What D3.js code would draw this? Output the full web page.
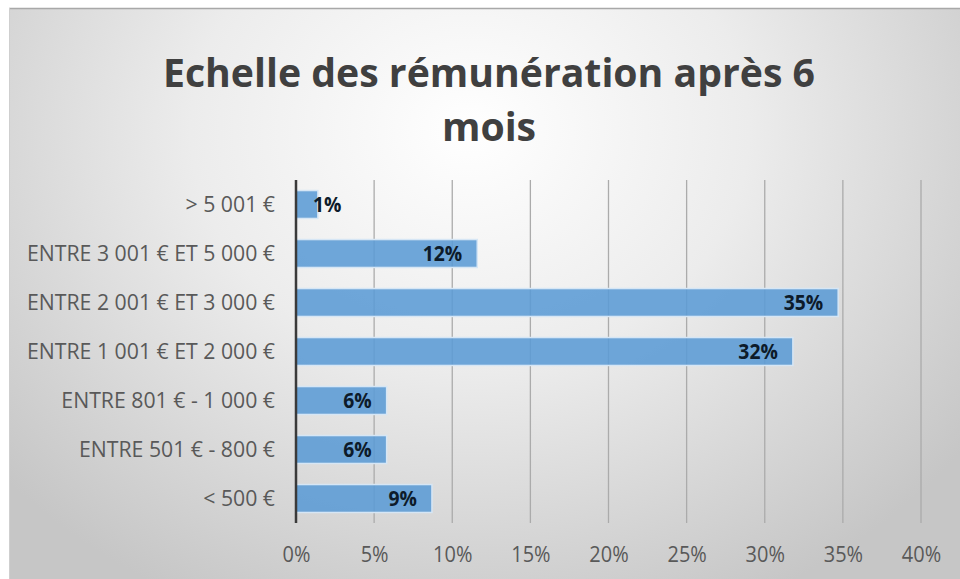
<!DOCTYPE html>
<html>
<head>
<meta charset="utf-8">
<script src="https://cdn.jsdelivr.net/npm/d3@7"></script>
<style>
  body { margin: 0; background: #fff; }
  svg { display: block; }
</style>
</head>
<body>
<div id="chart"></div>
<script>
const categories = [
  '> 5 001 €',
  'ENTRE 3 001 € ET 5 000 €',
  'ENTRE 2 001 € ET 3 000 €',
  'ENTRE 1 001 € ET 2 000 €',
  'ENTRE 801 € - 1 000 €',
  'ENTRE 501 € - 800 €',
  '< 500 €'
];
const shares = [0.014, 0.116, 0.347, 0.318, 0.058, 0.058, 0.087];
const xTicks = [0, 0.05, 0.10, 0.15, 0.20, 0.25, 0.30, 0.35, 0.40];
const titleLines = ['Echelle des rémunération après 6', 'mois'];

const W = 960, H = 579;
const FONT = "'Open Sans', 'Noto Sans', sans-serif";
const plot = { left: 296, right: 921, top: 180, bottom: 523 };

const svg = d3.select('#chart').append('svg').attr('width', W).attr('height', H);

// panel background (radial grey gradient like the Office style)
const grad = svg.append('defs').append('radialGradient').attr('id', 'bg')
  .attr('gradientUnits', 'userSpaceOnUse')
  .attr('cx', 470).attr('cy', 130).attr('r', 620)
  .attr('gradientTransform', 'translate(470,130) scale(1,0.85) translate(-470,-130)');
grad.append('stop').attr('offset', '0%').attr('stop-color', '#ffffff');
grad.append('stop').attr('offset', '45%').attr('stop-color', '#ececec');
grad.append('stop').attr('offset', '100%').attr('stop-color', '#c6c6c6');

svg.append('rect').attr('x', 9).attr('y', 8).attr('width', W - 9).attr('height', H - 8)
  .attr('fill', 'url(#bg)');
svg.append('line').attr('x1', 9).attr('x2', W).attr('y1', 8.5).attr('y2', 8.5)
  .attr('stroke', '#a8a8a8').attr('stroke-width', 1.5);
svg.append('line').attr('x1', 9.5).attr('x2', 9.5).attr('y1', 8).attr('y2', H)
  .attr('stroke', '#cfcfcf').attr('stroke-width', 1);

const x = d3.scaleLinear().domain([0, 0.40]).range([plot.left, plot.right]);
const y = d3.scaleBand().domain(categories).range([plot.top, plot.bottom]).paddingInner(0.43).paddingOuter(0.215);

// squeeze a text to a given width (the original uses a narrower font)
function fitWidth(sel, k) {
  sel.each(function () {
    const w = this.getComputedTextLength();
    d3.select(this).attr('textLength', w * k).attr('lengthAdjust', 'spacingAndGlyphs');
  });
}

// title
const title = svg.append('g').selectAll('text').data(titleLines).join('text')
  .attr('x', 489).attr('y', (d, i) => 87 + i * 54)
  .attr('text-anchor', 'middle')
  .attr('font-family', FONT).attr('font-weight', 700).attr('font-size', 39)
  .attr('fill', '#404040')
  .text(d => d);
const tw = title.nodes()[0].getComputedTextLength();
fitWidth(title, 652 / tw);

// gridlines
svg.append('g').selectAll('line').data(xTicks.slice(1)).join('line')
  .attr('x1', d => x(d)).attr('x2', d => x(d))
  .attr('y1', plot.top).attr('y2', plot.bottom)
  .attr('stroke', '#ababab').attr('stroke-width', 1.3);

// bars
svg.append('g').selectAll('rect').data(shares).join('rect')
  .attr('x', x(0)).attr('y', (d, i) => y(categories[i]))
  .attr('width', d => x(d) - x(0)).attr('height', y.bandwidth())
  .attr('fill', '#5b9bd5').attr('fill-opacity', 0.88)
  .attr('stroke', '#d6e6f5').attr('stroke-width', 1.5);

// vertical axis line
svg.append('line').attr('x1', x(0)).attr('x2', x(0))
  .attr('y1', plot.top).attr('y2', plot.bottom)
  .attr('stroke', '#3a3a3a').attr('stroke-width', 2.5);

// category labels
const cats = svg.append('g').selectAll('text').data(categories).join('text')
  .attr('x', 275).attr('y', d => y(d) + y.bandwidth() / 2)
  .attr('dy', '0.36em').attr('text-anchor', 'end')
  .attr('font-family', FONT).attr('font-size', 21).attr('fill', '#595959')
  .text(d => d);
const longest = cats.nodes()[1].getComputedTextLength();
fitWidth(cats, 248 / longest);

// x axis tick labels
const xAxis = d3.axisBottom(x).tickValues(xTicks).tickFormat(d3.format('.0%')).tickSize(0).tickPadding(0);
const gx = svg.append('g').attr('transform', `translate(0,${plot.bottom})`).call(xAxis);
gx.select('.domain').remove();
gx.selectAll('text')
  .attr('y', 31).attr('dy', '0.36em')
  .attr('font-family', FONT).attr('font-size', 21).attr('fill', '#595959');
fitWidth(gx.selectAll('text'), 0.95);

// data labels (inside end)
const fmt = d3.format('.0%');
const lab = svg.append('g').selectAll('text').data(shares).join('text')
  .attr('y', (d, i) => y(categories[i]) + y.bandwidth() / 2)
  .attr('dy', '0.38em').attr('text-anchor', 'end')
  .attr('font-family', FONT).attr('font-weight', 700).attr('font-size', 21)
  .attr('fill', '#0d1b2a')
  .text(d => fmt(d));
fitWidth(lab, 0.92);
lab.attr('x', function (d) {
  const w = +this.getAttribute('textLength');
  return Math.max(x(d) - 15, x(0) + 17 + w);
});
</script>
</body>
</html>
